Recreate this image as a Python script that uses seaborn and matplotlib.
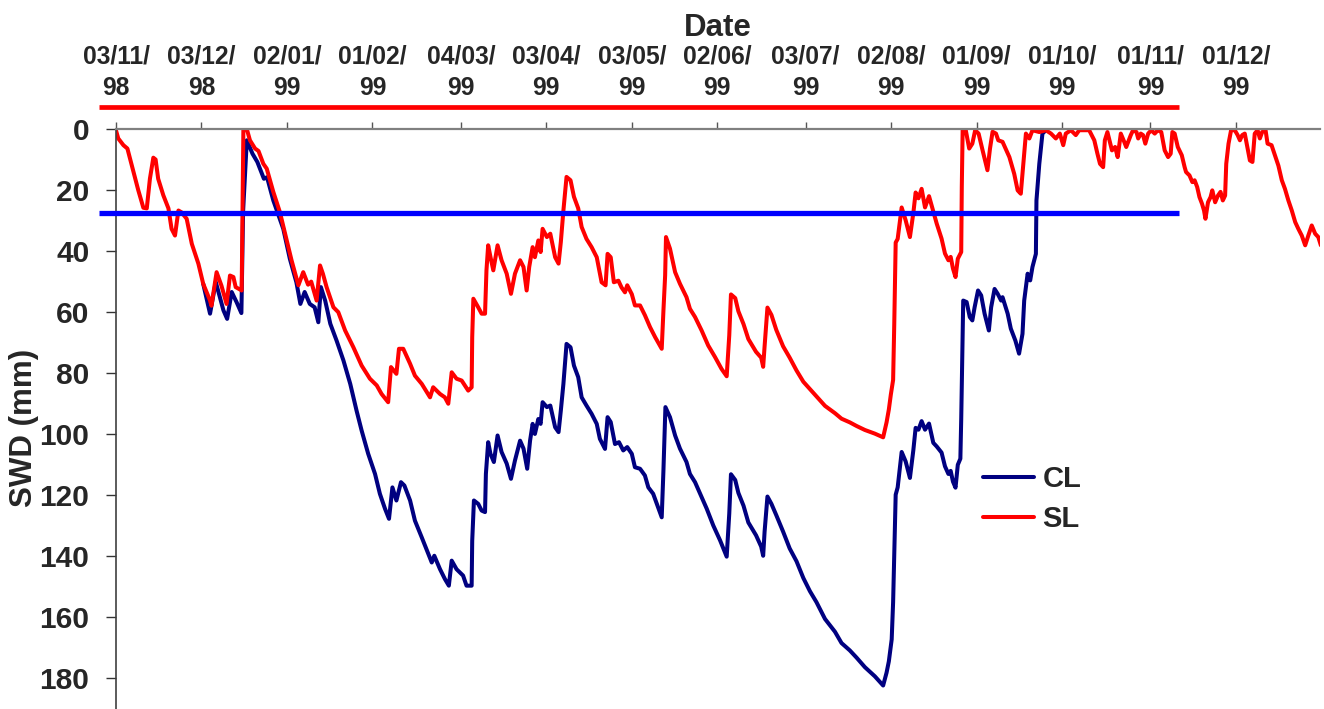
import pandas as pd
import matplotlib
matplotlib.use("Agg")
import matplotlib.pyplot as plt
import seaborn as sns

# Soil water deficit (SWD, mm) under two soils, daily record from 3 Nov 1998.
START = "1998-11-03"

sl_days = [0, 0.8, 2.6, 4, 6, 7.8, 9.6, 10.8, 11.9, 13.1, 13.9, 14.8, 16.6, 18.4, 19.5, 20.7,
           21.9, 23, 24.8, 26.6, 28.9, 30.6, 33, 33.5, 35.3, 37, 38.8, 40, 41.2, 42, 44.1,
           44.7, 45.9, 47, 48.8, 50, 51.7, 52.9, 55.2, 57.5, 59.9, 61.6, 64, 65.7, 67.4,
           68.5, 70.4, 71.6, 72.6, 73.9, 76.3, 78, 80.4, 83.3, 86.2, 89.1, 91.5, 93.2, 95.5,
           96.5, 98.4, 99.3, 100.8, 103.2, 104.9, 107.3, 110.2, 111.3, 113.7, 115.4, 116.6,
           117.8, 119.5, 121.3, 123.6, 124.8, 125, 125.4, 127.1, 128.3, 129.5, 130, 130.6,
           131.4, 132.4, 133.9, 135.3, 137.1, 138.6, 140, 141.8, 143, 144.1, 145, 146.2, 147,
           148.2, 149, 149.7, 151.2, 152.4, 154.1, 155.3, 156.1, 157, 158.1, 159.5, 160.7,
           162.2, 163.4, 165.1, 166.9, 168.7, 170.4, 171.8, 172.5, 173.6, 174.7, 176.3, 177.4,
           178.6, 179.4, 181, 182.1, 183.9, 185.6, 187.4, 189.2, 191.5, 192.1, 192.7, 193,
           194.4, 196.2, 197.9, 200.2, 201.4, 203.2, 205.5, 207.8, 210.2, 212.5, 214.3, 215.2,
           215.8, 217.3, 218.4, 220.2, 221.9, 224.6, 226.4, 227.1, 227.6, 228.6, 230, 231.7,
           234.1, 236.4, 238.8, 241.2, 243.5, 245.8, 248.8, 252.3, 254.6, 257.5, 259.9, 262.8,
           266.3, 269.2, 270.4, 271.2, 271.9, 272.7, 273.1, 273.6, 274.3, 275.7, 277.1, 278.6,
           279.8, 280.6, 281.6, 282.7, 283.9, 285.3, 286.8, 288, 289.7, 290.9, 292.1, 292.9,
           293.7, 294.6, 295.4, 296.6, 296.8, 297.1, 298.2, 299.4, 300.5, 301.5, 302.7, 304.1,
           305.8, 306.7, 307.6, 308.8, 309.6, 311.1, 313.5, 315.2, 316.4, 317.5, 318.4, 319.3,
           320.5, 321.6, 324, 326.3, 328.1, 329.8, 331.2, 332.4, 333.3, 335.1, 336.8, 338,
           341.5, 343.3, 344.4, 345.3, 346.4, 347, 347.9, 349.5, 350.6, 351.5, 352.6, 353.8,
           354.5, 356.1, 356.9, 358.1, 358.7, 359.6, 360.4, 361.2, 362.2, 363.3, 364.5, 365.6,
           366.8, 368, 369.2, 370.1, 370.7, 371.5, 372.6, 374, 375, 375.5, 376.7, 377.7,
           378.5, 379.4, 380.2, 381.1, 381.8, 382.3, 383.2, 384.1, 384.7, 385.7, 386.7, 387.6,
           388.4, 389.2, 389.6, 390.4, 391.3, 392.6, 393.6, 394.4, 395.2, 396.1, 397, 397.9,
           398.8, 399.6, 400.6, 401.4, 402.2, 403.4, 404.1, 405.5, 406.5, 407.9, 409.1, 410.2,
           411.4, 412.6, 413.8, 414.9, 416.1, 417.3, 418.4, 419.6, 420.8, 421.9, 422.8]
sl_swd = [0.5, 3.1, 5.3, 6.4, 13.5, 20, 25.8, 26, 16.3, 9.4, 10, 16.3, 21.7, 26, 32.7, 34.9,
          26.7, 27.3, 29.4, 37.6, 44.1, 50.7, 56.2, 57.9, 46.9, 51.3, 57.3, 48, 48.5, 51.8, 52.9,
          0, 0, 3.7, 6.4, 7.2, 11.4, 13, 20.6, 27.2, 36.5, 43, 51.2, 46.9, 51,
          50, 56.2, 44.7, 47.4, 51.8, 58.4, 60, 66, 71.5, 77.5, 81.8, 84, 86.8, 89.5,
          78, 80.2, 72, 72, 76.9, 80.8, 83.5, 87.9, 84.6, 86.8, 87.9, 90,
          79.7, 81.8, 82.4, 85.7, 84.6, 68.2, 55.6, 58.4, 60.5, 60.5, 46.3, 38.1,
          41.9, 46.3, 38.1, 43, 47.4, 54, 47.4, 43, 45.2, 52.9, 45.2, 38.7, 42,
          36.5, 40.3, 32.7, 35.4, 34.3, 42, 44.1, 37, 26.7, 15.7, 16.8, 22.2,
          26, 32.1, 36, 38.7, 42, 50.2, 51.2, 40.9, 42, 50.2, 49.7, 51.9,
          53.5, 51.2, 54.1, 57.8, 57.8, 61, 64.9, 68.2, 72, 59.5, 48, 35.4,
          39.2, 46.9, 50.7, 55.1, 58.9, 61.6, 66, 70.9, 74.7, 78.6, 81, 67.6,
          54.2, 55.4, 59.7, 63.9, 68.8, 73, 74.9, 77.9, 71.2, 58.5, 60.9, 65.8,
          71.2, 74.9, 79.1, 82.8, 85.2, 87.6, 90.7, 93.1, 94.9, 96.1, 97.3, 98.6,
          99.8, 101, 96.1, 91.9, 87, 82.2, 63.9, 37.2, 36, 25.7, 29.9, 35.4,
          27.5, 20.8, 22.7, 19.6, 25.7, 22, 27, 31, 35.9, 40.8, 43, 41.9,
          45.7, 48.5, 42.5, 40.3, 19, 0.4, 0.4, 6.4, 4.8, 0.4, 1.5, 7,
          13.5, 6.4, 0.9, 1.5, 3.7, 4.2, 9.2, 14.7, 20.1, 21.2, 11.4, 1.5,
          3.1, 0.4, 1, 0.4, 1.5, 3.1, 1.5, 5.3, 1.5, 0.4, 2, 0.4,
          0.4, 3.7, 8.1, 11.4, 12.5, 3.7, 1, 7, 5.9, 9.2, 1.5, 4.2,
          5.9, 2, 0.4, 1, 3.1, 1.5, 2, 4.8, 1.5, 0.4, 1.5, 0.4,
          1, 7, 9.2, 8.1, 1, 1.5, 5.9, 8.6, 12.5, 14.1, 15.2, 17.4,
          16.8, 19, 22.3, 24.5, 26.7, 29.4, 24, 22.3, 20.1, 24, 21.8, 20.6,
          23.4, 21.8, 11.4, 4.8, 0.4, 0.4, 2, 3.7, 2, 1.5, 5.9, 10.3,
          10.8, 1.5, 0.4, 3.1, 1, 0.4, 4.8, 5.3, 8.1, 12, 16.8, 19.6,
          23.4, 26.7, 30.5, 32.7, 34.9, 38.1, 34.9, 31.6, 34.3, 35.4, 38.1]

cl_days = [30.6, 33, 35, 37.7, 39, 40.6, 42.3, 44, 44.6, 45.9, 47.9, 49.6, 51.9, 53, 55.2,
           58.7, 61, 63.3, 64.7, 66.2, 68, 69.7, 71, 71.9, 73.4, 75.2, 77.4, 79.8, 82.2, 84.4,
           86.2, 88.5, 90.9, 92.6, 94.4, 95.8, 97, 98.4, 100, 101.2, 103.2, 104.9, 107.3,
           109.6, 110.8, 111.7, 113.7, 115.4, 116.8, 117.8, 119.5, 121.8, 123, 124.8, 125,
           125.6, 127.1, 128.3, 129.5, 129.8, 130.6, 131.4, 132.6, 133.9, 135.3, 137.1, 138.6,
           140, 141.8, 143, 144.3, 145.3, 146.2, 147, 148.2, 149, 149.7, 151.2, 152.4, 154.1,
           155.3, 156.1, 157, 158.1, 159.5, 160.7, 162.2, 163.4, 165.1, 166.9, 168.7, 169.8,
           171.6, 172.5, 173.6, 175.1, 176.5, 178, 179.4, 181, 182.1, 183.9, 185.6, 186.8,
           188.5, 190, 191.5, 192.1, 192.8, 194.4, 196.2, 197.9, 200.2, 201.4, 203.2, 205.5,
           207.3, 209.6, 212, 214.3, 215.2, 215.8, 217.3, 218.4, 220.2, 221.9, 224.6, 226.4,
           227.1, 227.6, 228.6, 230, 231.7, 234.1, 236.4, 238.8, 241.2, 243.5, 245.8, 248.8,
           252.3, 254.6, 257.5, 259.9, 262.8, 266.3, 269.2, 270.4, 271.2, 272.2, 272.7, 273.3,
           273.6, 274.3, 275.7, 277.1, 278.6, 279.8, 280.6, 281.6, 282.7, 283.9, 285.3, 286.8,
           288, 289.7, 290.9, 292.1, 292.9, 293.7, 294.6, 295.4, 296.3, 296.6, 297, 297.3,
           298.5, 299.6, 300.5, 301.3, 302.5, 303.6, 304.8, 306.3, 307.1, 308.3, 309.4, 310.6,
           311.1, 312.9, 314, 315.6, 316.9, 318.1, 318.7, 319.9, 320.8, 321.6, 322.8, 323,
           324, 325.1, 326.3]
cl_swd = [50.7, 60.5, 50.1, 59.4, 62.2, 53.4, 56.7, 60.3, 27, 3.7, 8.1, 10.8, 16.3, 15.8, 23.4,
          32.7, 42.5, 50.2, 57.3, 53.4, 57.3, 58.4, 63.3, 51.8, 56.2, 63.8, 69.3, 75.8, 83.5, 92.2,
          98.8, 106.4, 113, 119.5, 124.4, 127.7, 117.4, 121.7, 115.7, 116.8, 121.7, 128.3, 133.8,
          139.2, 142, 139.8, 144.2, 147.4, 149.6, 141.4, 144.2, 146.3, 149.6, 149.6, 134.9,
          121.7, 122.8, 125, 125.5, 113, 102.6, 106.4, 109.1, 100.4, 105.8, 109.6, 114.6,
          108.6, 102.1, 104.7, 111.3, 102.1, 96.6, 99.9, 95, 96.6, 89.5, 91.1, 90.6, 97.7,
          99.3, 92.2, 83.5, 70.4, 71.5, 77.5, 81.3, 87.9, 90.6, 93.3, 96.6, 101.5,
          104.8, 94.4, 96, 103.2, 102.6, 105.3, 104.2, 106.4, 110.8, 111.3, 113.5, 117.4,
          119.5, 123.3, 127.2, 111.9, 91.1, 94.4, 100.4, 104.7, 109.1, 113, 115.7, 120.6,
          124.4, 129.9, 134.8, 140.1, 126, 113.1, 115, 119.2, 123.4, 128.9, 133.1, 136.8,
          139.8, 131.9, 120.4, 122.8, 126.5, 131.9, 137.4, 141.6, 147.1, 151.4, 155, 160.5,
          164.7, 168.4, 170.8, 173.2, 176.3, 179.3, 182.3, 178.1, 174.4, 167.2, 155, 130.7,
          119.8, 117.4, 105.8, 108.9, 114.3, 105.2, 97.9, 98.5, 95.7, 98.5, 96.5, 102.8,
          104, 106, 110.5, 113, 112, 115.5, 117.5, 110, 108, 95, 72, 56.2,
          56.7, 61.6, 62.7, 58.4, 52.9, 54.5, 60.5, 66, 58.4, 52.4, 54, 56.2,
          55.1, 60.5, 65.4, 69.3, 73.6, 67.1, 56.2, 47.4, 49.6, 45.2, 40.9, 23.4,
          11.4, 1.5, 0.4]

tick_dates = ["03/11/98", "03/12/98", "02/01/99", "01/02/99", "04/03/99", "03/04/99",
              "03/05/99", "02/06/99", "03/07/99", "02/08/99", "01/09/99", "01/10/99",
              "01/11/99", "01/12/99"]
swd_ticks = [0, 20, 40, 60, 80, 100, 120, 140, 160, 180]

# Reference lines: critical deficit and the period bar drawn above the plot
critical_swd = 27.5
period_bar_level = -7.1
reference_span = ["1998-10-28", "1999-11-11"]
x_end = "1999-12-30 12:00"

series_colors = {"CL": "#000080", "SL": "#FF0000"}

start = pd.Timestamp(START)
frames = []
for name, days, vals in [("CL", cl_days, cl_swd), ("SL", sl_days, sl_swd)]:
    frames.append(pd.DataFrame({
        "Date": start + pd.to_timedelta(days, unit="D"),
        "SWD": vals,
        "Soil": name,
    }))
df = pd.concat(frames, ignore_index=True)

sns.set_style("white")
plt.rcParams["font.family"] = ["Liberation Sans", "DejaVu Sans"]
plt.rcParams["font.weight"] = "bold"

W, H = 1324, 709
fig = plt.figure(figsize=(W / 100, H / 100), dpi=100)
ax = fig.add_axes([116 / W, 0.0, (1320 - 116) / W, 580 / H])

sns.lineplot(data=df, x="Date", y="SWD", hue="Soil", hue_order=["CL", "SL"],
             palette=series_colors, estimator=None, sort=False, linewidth=2.9, ax=ax)

span = pd.to_datetime(reference_span)
ax.plot(span, [critical_swd, critical_swd], color="#0000FF", linewidth=3.8,
        solid_capstyle="butt", clip_on=False, zorder=4)
ax.plot(span, [period_bar_level, period_bar_level], color="#FF0000", linewidth=3.4,
        solid_capstyle="butt", clip_on=False, zorder=4)

ax.set_xlim(start, pd.Timestamp(x_end))
ax.set_ylim(190, 0)

# Date axis along the top
ax.xaxis.tick_top()
ax.xaxis.set_label_position("top")
ticks = [pd.to_datetime(d, format="%d/%m/%y") for d in tick_dates]
ax.set_xticks(ticks)
ax.set_xticklabels([d[:6] + "\n" + d[6:] for d in tick_dates], linespacing=1.38)
ax.set_xlabel("Date", fontsize=22.5, fontweight="bold", labelpad=6)
ax.tick_params(axis="x", which="major", direction="out", length=5, width=1,
               color="#555555", labelsize=17.7, pad=16)

ax.set_yticks(swd_ticks)
ax.tick_params(axis="y", direction="out", length=7.2, width=1, color="#333333",
               labelsize=21.5, pad=12, left=True)
ax.set_ylabel("SWD (mm)", fontsize=22.5, fontweight="bold")
ax.yaxis.label.set_va("center")
ax.yaxis.set_label_coords(-0.076, 0.484)

for side in ["right", "bottom"]:
    ax.spines[side].set_visible(False)
ax.spines["top"].set_color("#808080")
ax.spines["top"].set_linewidth(1.6)
ax.spines["left"].set_color("#404040")
ax.spines["left"].set_linewidth(1.2)

handles, labels = ax.get_legend_handles_labels()
ax.legend(handles, labels, loc="center left", bbox_to_anchor=(0.72, 0.3615),
          frameon=False, prop={"size": 21, "weight": "bold"}, handlelength=1.75,
          handletextpad=0.3, labelspacing=0.4, borderpad=0, borderaxespad=0)

fig.savefig("out.png", dpi=100)
